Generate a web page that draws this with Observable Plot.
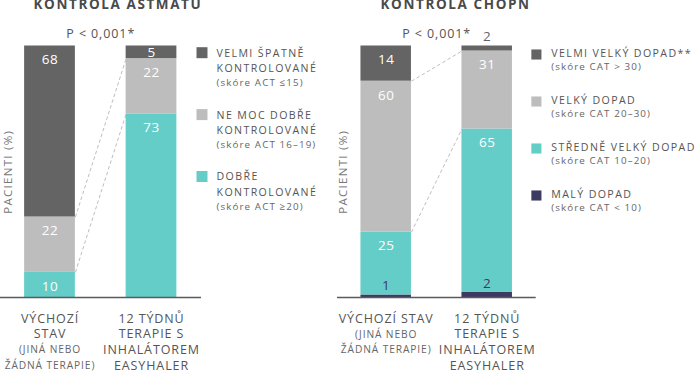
<!DOCTYPE html>
<html><head><meta charset="utf-8">
<script src="https://cdn.jsdelivr.net/npm/d3@7"></script>
<script src="https://cdn.jsdelivr.net/npm/@observablehq/plot@0.6"></script>
<style>
body{margin:0;background:#fff;}
#wrap{display:flex;width:700px;height:372px;overflow:hidden;background:#fff;}
#wrap svg{overflow:visible;flex:none;}
</style></head><body><div id="wrap"></div>
<script>
// ---- data ----
const asthmaTitle = "KONTROLA ASTMATU";
const copdTitle = "KONTROLA CHOPN";
const pValueText = "P < 0,001*";
const yLabel = "PACIENTI (%)";
// stack order: bottom -> top
const asthmaLevels = ["DOBŘE KONTROLOVANÉ", "NE MOC DOBŘE KONTROLOVANÉ", "VELMI ŠPATNĚ KONTROLOVANÉ"];
const asthmaBaseline = [10, 22, 68];
const asthmaEasyhaler = [73, 22, 5];
const copdLevels = ["MALÝ DOPAD", "STŘEDNĚ VELKÝ DOPAD", "VELKÝ DOPAD", "VELMI VELKÝ DOPAD"];
const copdBaseline = [1, 25, 60, 14];
const copdEasyhaler = [2, 65, 31, 2];
// legend texts (top -> bottom); last line of each entry is the small score line
const asthmaLegend = [
  ["VELMI ŠPATNĚ", "KONTROLOVANÉ", "(skóre ACT ≤15)"],
  ["NE MOC DOBŘE", "KONTROLOVANÉ", "(skóre ACT 16–19)"],
  ["DOBŘE", "KONTROLOVANÉ", "(skóre ACT ≥20)"]
];
const copdLegend = [
  ["VELMI VELKÝ DOPAD**", "(skóre CAT > 30)"],
  ["VELKÝ DOPAD", "(skóre CAT 20–30)"],
  ["STŘEDNĚ VELKÝ DOPAD", "(skóre CAT 10–20)"],
  ["MALÝ DOPAD", "(skóre CAT < 10)"]
];
// period labels: [big lines, small lines]
const asthmaPeriods = [
  [["VÝCHOZÍ", "STAV"], ["(JINÁ NEBO", "ŽÁDNÁ TERAPIE)"]],
  [["12 TÝDNŮ", "TERAPIE S", "INHALÁTOREM", "EASYHALER"], []]
];
const copdPeriods = [
  [["VÝCHOZÍ STAV"], ["(JINÁ NEBO", "ŽÁDNÁ TERAPIE)"]],
  [["12 TÝDNŮ", "TERAPIE S", "INHALÁTOREM", "EASYHALER"], []]
];

// ---- styles ----
const asthmaColors = ["#64cdc8", "#bdbdbd", "#646464"];
const copdColors = ["#3d3a62", "#64cdc8", "#bdbdbd", "#646464"];
const textGray = "#555";
const FONT = "'Open Sans', 'Noto Sans', sans-serif";

function panel(cfg) {
  const {width, ml, mr, mt, mb, xRange, levels, colors, series} = cfg;
  const rows = [];
  series.forEach((vals, p) => {
    let c = 0;
    vals.forEach((v, i) => { rows.push({p, level: levels[i], value: v, y1: c, y2: c + v}); c += v; });
  });
  const cum = series.map(vals => Array.from(d3.cumsum(vals)));
  const links = cfg.linkLevels.map(k => ({y1: cum[0][k], y2: cum[1][k]}));
  const pin = (x, y) => ({frameAnchor: "top-left", dx: x - ml, dy: y - mt});
  const T = (str, x, y, o) => Plot.text([str], {text: d => d, ...pin(x, y), lineAnchor: "middle", fill: textGray, ...o});

  const marks = [];
  // bars
  marks.push(Plot.rect(rows, {x1: d => d.p - 0.25, x2: d => d.p + 0.25, y1: "y1", y2: "y2", fill: "level"}));
  // dashed connectors
  marks.push(Plot.link(links, {x1: () => 0.25, x2: () => 0.75, y1: "y1", y2: "y2", stroke: "#b5b5b5", strokeWidth: 0.9, strokeDasharray: "3.5,2.5"}));
  // baseline
  marks.push(Plot.ruleY([0], {stroke: "#5a5a5a", strokeWidth: 1.4}));
  // value labels
  marks.push(Plot.text(rows.filter(d => d.value >= 8), {x: "p", y: "y2", text: d => String(d.value), dy: 14, lineAnchor: "middle", fill: "white", fontSize: 13.5}));
  marks.push(Plot.text(rows.filter(d => d.value >= 4 && d.value < 8), {x: "p", y: d => (d.y1 + d.y2) / 2, text: d => String(d.value), lineAnchor: "middle", fill: "white", fontSize: 13.5}));
  marks.push(Plot.text(rows.filter(d => d.value < 4), {x: "p", y: "y2", text: d => String(d.value), dy: -9, lineAnchor: "middle", fill: "level", fontSize: 13.5}));
  // p-value
  marks.push(Plot.text([pValueText], {x: () => 0.5, text: d => d, frameAnchor: "top", dy: 33.5 - mt, lineAnchor: "middle", fill: textGray, fontSize: 12.5}));
  // title
  marks.push(T(cfg.title, cfg.titleX, 4, {textAnchor: "start", fontSize: 13.5, fontWeight: "bold", fill: "#4a4a4a"}));
  // y label
  marks.push(Plot.text([yLabel], {text: d => d, frameAnchor: "left", dx: cfg.yLabelX - ml, rotate: -90, textAnchor: "middle", lineAnchor: "middle", fill: "#777", fontSize: 11.5}));
  // legend
  cfg.legend.forEach((lines, i) => {
    const y0 = cfg.legY0 + i * cfg.legStep;
    const colorIdx = levels.length - 1 - i;
    marks.push(Plot.dot([0], {...pin(cfg.sqX, y0 + cfg.sqDy), symbol: "square", r: cfg.sqR, fill: colors[colorIdx]}));
    lines.forEach((ln, k) => {
      const small = k === lines.length - 1;
      const y = small ? y0 + cfg.smallDy : y0 + k * cfg.lineStep;
      marks.push(T(ln, cfg.legX, y, {textAnchor: "start", fontSize: small ? 9.8 : 10.6, fill: small ? "#666" : textGray}));
    });
  });
  // period labels
  cfg.periods.forEach(([big, small], p) => {
    const all = big.map(t => [t, false]).concat(small.map(t => [t, true]));
    all.forEach(([t, isSmall], k) => {
      marks.push(Plot.text([t], {x: () => p, text: d => d, frameAnchor: "bottom", dy: 318 + k * 15.8 - (372 - mb), lineAnchor: "middle", fontSize: isSmall ? 10.2 : 12.5, fill: isSmall ? "#666" : textGray}));
    });
  });

  const svg = Plot.plot({
    width, height: 372,
    marginLeft: ml, marginRight: mr, marginTop: mt, marginBottom: mb,
    x: {domain: [0, 1], range: xRange, axis: null},
    y: {domain: [0, 100], axis: null},
    color: {domain: levels, range: colors},
    style: {fontFamily: FONT, background: "white", overflow: "visible"},
    marks
  });
  // letter spacing by text size
  const spacing = {"13.5": 0.5, "12.5": 0.9, "11.5": 1.3, "10.6": 1.4, "10.2": 0.9, "9.8": 1.1};
  d3.select(svg).selectAll("g[font-size]").each(function() {
    const fs = this.getAttribute("font-size");
    const bold = this.getAttribute("font-weight") === "bold";
    const ls = bold ? 1.6 : (spacing[fs] ?? 0.8);
    this.setAttribute("letter-spacing", ls);
    this.style.letterSpacing = ls + "px";
  });
  return svg;
}

const wrap = document.getElementById("wrap");
wrap.appendChild(panel({
  width: 330, ml: 0, mr: 129, mt: 45.5, mb: 75, xRange: [49.5, 151],
  levels: asthmaLevels, colors: asthmaColors, series: [asthmaBaseline, asthmaEasyhaler],
  linkLevels: [0, 1], title: asthmaTitle, titleX: 33, yLabelX: 8,
  legend: asthmaLegend, legX: 216, legY0: 52.7, legStep: 61.9, lineStep: 15.5, smallDy: 29.8,
  sqX: 201.5, sqDy: -0.5, sqR: 6.2, periods: asthmaPeriods
}));
wrap.appendChild(panel({
  width: 370, ml: 7, mr: 164.3, mt: 45.5, mb: 75, xRange: [55.7, 156.7],
  levels: copdLevels, colors: copdColors, series: [copdBaseline, copdEasyhaler],
  linkLevels: [1, 2], title: copdTitle, titleX: 50, yLabelX: 13.3,
  legend: copdLegend, legX: 220.7, legY0: 53.3, legStep: 47, lineStep: 15, smallDy: 13,
  sqX: 205.9, sqDy: 0.7, sqR: 5.7, periods: copdPeriods
}));
</script></body></html>
